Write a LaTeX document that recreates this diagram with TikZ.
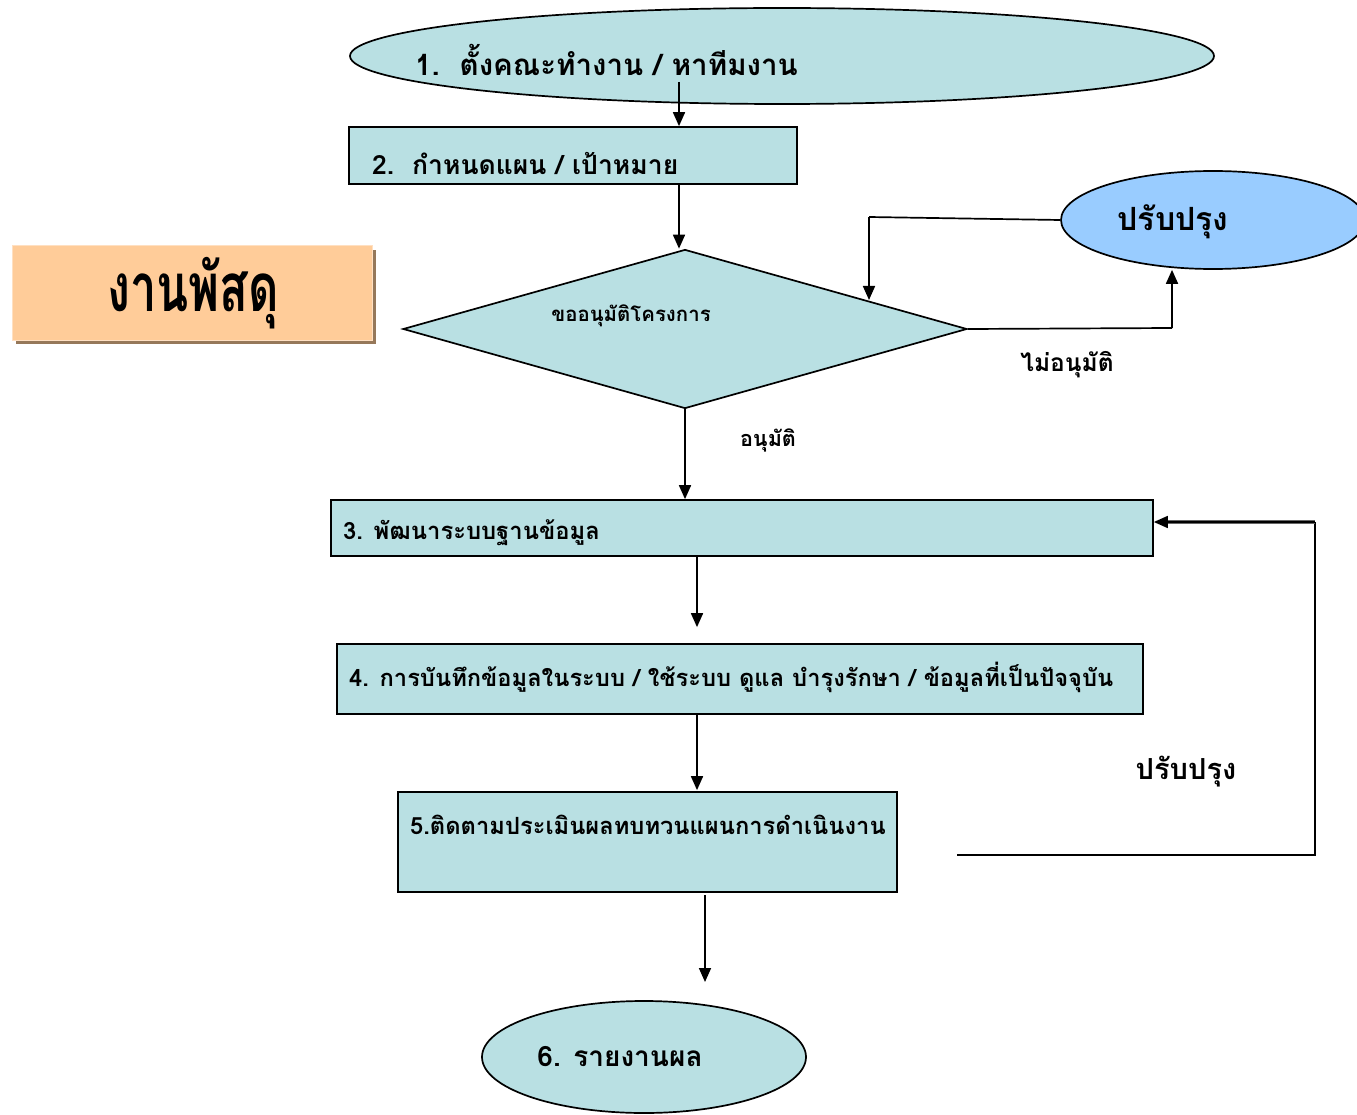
\documentclass[tikz,border=0pt]{standalone}
\usepackage{fontspec}
\usepackage{graphicx}
\newfontfamily\thai[Script=Thai]{Loma}
\usetikzlibrary{shapes.geometric,arrows.meta,calc}
\definecolor{boxblue}{RGB}{185,224,227}
\definecolor{ovalblue}{RGB}{153,204,255}
\definecolor{titlefill}{RGB}{255,204,153}
\definecolor{shadowbrown}{RGB}{150,120,90}
\tikzset{
  stepbox/.style={draw=black, line width=1.7pt, fill=boxblue, rectangle, inner sep=0pt},
  oval/.style={draw=black, line width=1.7pt, ellipse, inner sep=0pt},
  arr/.style={line width=1.7pt, -{Triangle[length=14pt,width=12pt]}},
  conn/.style={line width=1.7pt},
  txt/.style={font=\thai\bfseries, inner sep=0pt, anchor=west},
}
\begin{document}
\begin{tikzpicture}[x=1pt,y=-1pt]
\useasboundingbox (0,0) rectangle (1357,1115);
\fill[white] (0,0) rectangle (1357,1115);

% title box
\fill[shadowbrown] (16,250) rectangle (376,344);
\node[rectangle, fill=titlefill, draw=titlefill!60!white, line width=1pt, minimum width=360pt, minimum height=94pt, inner sep=0pt] (title) at (192,293) {};
\node[font=\thai\bfseries, inner sep=0pt] (titletext) at (193,293) {\scalebox{0.98}[1.4]{\fontsize{48}{56}\selectfont งานพัสดุ}};

% step 1
\node[oval, fill=boxblue, minimum width=864pt, minimum height=96pt] (e1) at (782,56) {};
\node[txt] (t1) at (415,60) {\fontsize{29.5}{34}\selectfont 1.\ \ ตั้งคณะทำงาน / หาทีมงาน};

% step 2
\node[stepbox, minimum width=448pt, minimum height=57pt] (r2) at (573,155.5) {};
\node[txt] (t2) at (372,163) {\fontsize{26.5}{30}\selectfont 2.\ \ กำหนดแผน / เป้าหมาย};

% decision
\node[diamond, draw=black, line width=1.7pt, fill=boxblue, minimum width=564pt, minimum height=159pt, inner sep=0pt] (d) at (685,329) {};
\node[font=\thai\bfseries, inner sep=0pt] (dt) at (631,316) {\fontsize{20.4}{24}\selectfont ขออนุมัติโครงการ};

% improve oval
\node[oval, fill=ovalblue, minimum width=304pt, minimum height=98pt] (ep) at (1213,220) {};
\node[font=\thai\bfseries, inner sep=0pt] (ept) at (1173,222) {\fontsize{32}{38}\selectfont ปรับปรุง};

% step 3
\node[stepbox, minimum width=822pt, minimum height=56pt] (r3) at (742,528) {};
\node[txt] (t3) at (343,533) {\fontsize{23.8}{28}\selectfont 3. พัฒนาระบบฐานข้อมูล};

% step 4
\node[stepbox, minimum width=806pt, minimum height=70pt] (r4) at (740,679) {};
\node[txt] (t4) at (349,677) {\fontsize{23.7}{28}\selectfont 4. การบันทึกข้อมูลในระบบ / ใช้ระบบ ดูแล บำรุงรักษา / ข้อมูลที่เป็นปัจจุบัน};

% step 5
\node[stepbox, minimum width=499pt, minimum height=100pt] (r5) at (647.5,842) {};
\node[txt] (t5) at (410,825) {\fontsize{23.7}{28}\selectfont 5.ติดตามประเมินผลทบทวนแผนการดำเนินงาน};

% step 6
\node[oval, fill=boxblue, minimum width=324pt, minimum height=112pt] (e6) at (644,1057) {};
\node[font=\thai\bfseries, inner sep=0pt] (t6) at (620,1057) {\fontsize{28}{32}\selectfont 6. รายงานผล};

% labels
\node[font=\thai\bfseries, inner sep=0pt] (lno) at (1067,365) {\fontsize{24.5}{28}\selectfont ไม่อนุมัติ};
\node[font=\thai\bfseries, inner sep=0pt] (lyes) at (768,440) {\fontsize{21.6}{26}\selectfont อนุมัติ};
\node[font=\thai\bfseries, inner sep=0pt] (lfb) at (1186,772) {\fontsize{29}{34}\selectfont ปรับปรุง};

% coordinates
\coordinate (a1) at (679,82);
\coordinate (a3) at (697,556);
\coordinate (a4) at (697,714);
\coordinate (a5s) at (705,895);
\coordinate (a5e) at (705,982);
\coordinate (nd) at (1172,328);
\coordinate (ydrop) at (869,217);
\coordinate (ytip) at (869,300);
\coordinate (fbs) at (957,855);
\coordinate (fbc) at (1315,855);
\coordinate (fbt) at (1315,522);

% connectors
\draw[arr] (a1) -- (a1 |- r2.north);
\draw[arr] (r2.south -| a1) -- (d.north -| a1);
\draw[arr] (d.south) -- (d.south |- r3.north);
\draw[arr] (a3) -- ($(a3 |- r4.north)+(0,-16)$);
\draw[arr] (a4) -- ($(a4 |- r5.north)+(0,-1)$);
\draw[arr] (a5s) -- (a5e);
\draw[conn] (d.east) -- (nd);
\draw[arr] (nd) -- (nd |- ep.south);
\draw[conn] (ep.west) -- (ydrop);
\draw[arr] (ydrop) -- (ytip);
\draw[conn] (fbs) -- (fbc) -- (fbt);
\draw[line width=3.5pt, black!60] (fbt) -- ($(fbt -| r3.east)+(14,0)$);
\draw[arr] (fbt) -- (fbt -| r3.east);
\end{tikzpicture}
\end{document}
